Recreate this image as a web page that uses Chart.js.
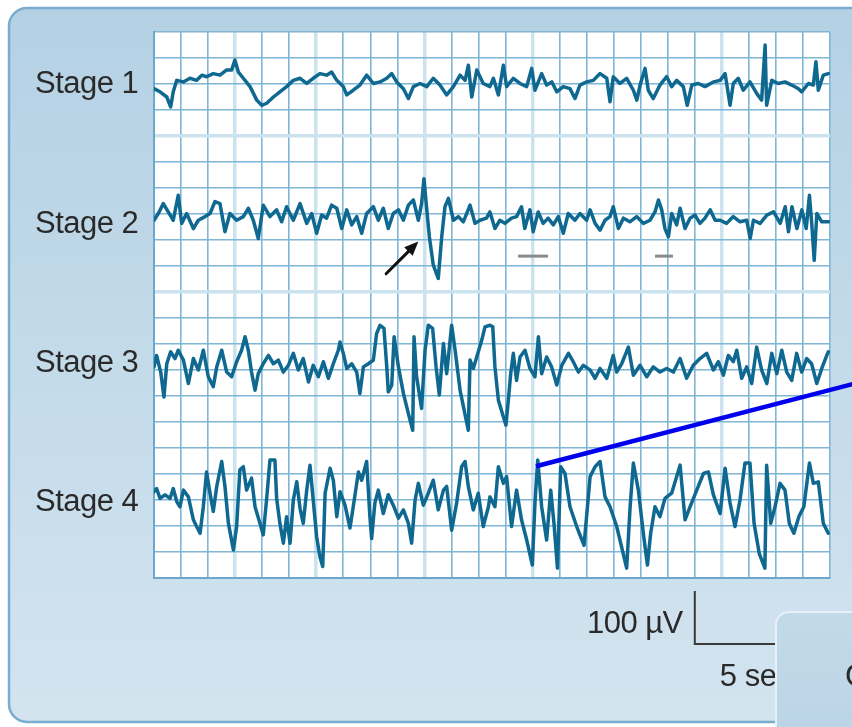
<!DOCTYPE html>
<html>
<head>
<meta charset="utf-8">
<script src="https://cdn.jsdelivr.net/npm/chart.js@4.4.1/dist/chart.umd.min.js"></script>
<style>
  html, body { margin: 0; padding: 0; background: #fff; overflow: hidden; }
  canvas { display: block; }
</style>
</head>
<body>
<canvas id="eeg" width="852" height="727"></canvas>
<script>
// EEG traces for the four non-REM sleep stages.
// Time in seconds, amplitude in microvolts (positive up) around each trace's own baseline.
const stageNames = ['Stage 1', 'Stage 2', 'Stage 3', 'Stage 4'];
const stageBaselines = [942, 698, 415, 150];   // where each trace sits on the shared µV axis

const stage1Time = [0.00,0.28,0.59,0.77,0.89,1.05,1.36,1.66,1.97,2.21,2.43,2.74,3.05,3.36,3.59,3.74,3.90,4.13,4.44,4.75,4.98,5.21,5.52,5.82,6.13,6.44,6.75,7.06,7.36,7.67,7.98,8.21,8.45,8.75,8.91,9.21,9.52,9.83,10.14,10.45,10.76,10.99,11.22,11.53,11.76,11.99,12.30,12.61,12.91,13.22,13.53,13.84,14.15,14.38,14.53,14.69,14.92,15.22,15.53,
  15.69,15.92,16.15,16.30,16.61,16.92,17.23,17.46,17.61,17.92,18.15,18.39,18.62,18.92,19.23,19.46,19.69,20.00,20.31,20.62,20.93,21.08,21.23,21.54,21.85,22.16,22.32,22.47,22.70,22.85,23.08,23.39,23.70,23.93,24.16,24.47,24.65,24.86,25.16,25.47,25.86,26.17,26.40,26.63,26.78,27.01,27.24,27.55,27.86,28.09,28.25,28.32,28.56,28.86,29.17,29.48,29.79,29.94,30.25,30.48,30.60,30.71,30.94,31.17];
const stage1Volts = [-1,-7,-17,-36,-7,15,12,19,15,25,22,28,25,35,35,54,31,19,3,-23,-33,-29,-17,-7,3,15,19,9,19,28,25,31,15,3,-13,-4,6,25,9,12,19,28,12,-1,-20,3,9,3,19,6,-13,3,25,15,44,-17,35,9,3,
  19,-13,44,3,19,9,3,38,-4,28,6,12,-7,3,-1,-20,6,12,15,28,19,-26,22,9,19,-4,-23,6,38,-4,-20,6,22,3,15,3,-33,6,9,3,12,15,28,-33,9,19,-4,12,-10,-23,83,-33,15,9,12,6,-1,-7,9,6,51,-4,25,28];

const stage2Time = [0.00,0.20,0.43,0.66,0.89,1.12,1.28,1.51,1.82,2.05,2.36,2.59,2.82,3.05,3.28,3.51,3.82,4.13,4.36,4.59,4.82,5.05,5.36,5.67,5.90,6.13,6.44,6.75,7.06,7.29,7.52,7.75,7.98,8.21,8.45,8.68,8.91,9.14,9.37,9.60,9.83,10.14,10.37,10.60,10.83,11.06,11.30,11.53,11.76,11.99,12.22,12.37,12.48,12.61,12.73,12.91,13.14,13.30,13.45,13.61,13.84,14.07,14.30,14.61,14.84,15.07,15.37,
  15.53,15.76,15.99,16.22,16.53,16.76,16.99,17.14,17.38,17.53,17.76,17.99,18.22,18.46,18.69,18.92,19.15,19.46,19.69,20.00,20.16,20.39,20.62,20.85,21.08,21.23,21.47,21.70,22.00,22.31,22.62,22.93,23.16,23.32,23.47,23.62,23.78,23.93,24.16,24.32,24.55,24.78,25.01,25.24,25.47,25.71,25.94,26.17,26.47,26.78,27.09,27.40,27.56,27.71,28.02,28.33,28.64,28.95,29.18,29.33,29.49,29.72,29.95,30.15,30.30,30.41,30.52,30.64,30.87,31.18];
const stage2Volts = [-10,3,22,6,-10,38,-16,3,-26,-10,-3,3,26,22,-32,3,-10,-3,13,-10,-45,19,-3,10,-13,16,-10,22,-16,3,-35,0,-6,19,13,-26,10,-19,-3,-35,3,16,-10,13,-26,3,10,-10,19,29,-10,22,70,10,-42,-96,-122,-42,16,32,-10,-3,-13,19,-16,-10,-6,
  6,-26,-10,-16,-6,-3,16,-26,10,-32,6,-16,-6,-19,-3,-35,3,-10,3,-10,10,-16,-29,-10,-3,16,-26,-6,-13,-3,-16,-10,6,29,10,-26,-42,3,-19,13,-26,-6,0,-16,-6,10,-10,-10,-16,-3,-13,-10,-45,-10,-16,0,6,-16,16,-32,16,-26,10,-26,38,-19,-87,3,-13,-13];

const stage3Time = [0.00,0.12,0.31,0.46,0.59,0.77,0.97,1.12,1.36,1.59,1.82,2.05,2.28,2.51,2.74,2.90,3.13,3.36,3.59,3.82,4.05,4.21,4.36,4.51,4.67,4.82,5.05,5.29,5.52,5.75,5.98,6.21,6.44,6.67,6.90,7.14,7.36,7.60,7.83,8.06,8.29,8.52,8.60,8.75,8.91,9.14,9.37,9.52,9.68,9.91,10.14,10.29,10.45,10.63,10.76,10.83,10.99,11.10,11.30,11.53,11.76,11.96,12.02,12.14,12.37,12.53,12.68,12.88,13.04,13.19,13.38,13.53,13.76,13.92,14.15,14.53,14.61,14.76,14.92,15.15,
  15.30,15.53,15.66,15.76,15.92,16.15,16.27,16.38,16.49,16.61,16.76,16.92,17.15,17.38,17.61,17.77,17.92,18.15,18.38,18.62,18.85,19.16,19.38,19.62,19.85,20.16,20.39,20.62,20.93,21.23,21.39,21.62,21.93,22.16,22.47,22.78,23.08,23.39,23.70,24.01,24.32,24.62,24.93,25.24,25.55,25.86,26.09,26.32,26.55,26.78,26.94,27.17,27.40,27.63,27.86,28.09,28.33,28.56,28.79,29.02,29.25,29.48,29.71,29.94,30.17,30.40,30.64,30.87,31.10,31.17];
const stage3Volts = [-9,13,-19,-67,-3,20,7,23,4,-41,7,-15,23,-28,-47,-9,23,-19,-28,1,23,49,23,-19,-54,-22,-3,13,-3,4,-19,-6,17,-15,7,-38,-6,-28,1,-31,-3,23,39,17,-12,-3,-19,-60,-9,-3,4,55,71,65,-9,-57,-44,49,-9,-60,-99,-131,49,-28,-89,23,71,65,-9,-63,36,-22,71,23,-54,-131,4,-12,10,42,
  68,71,68,-9,-73,-105,-121,-73,-22,17,-35,10,23,-12,-28,49,-22,10,-9,-44,-6,17,1,-19,-6,-15,-31,-12,-31,13,-19,-3,29,-25,-6,-28,-9,-19,-12,-19,7,-31,-6,7,17,-15,1,-25,13,1,23,-31,-9,-41,29,-15,-41,17,-22,23,-19,-35,17,-19,7,-3,-41,-12,13,20];

const stage4Time = [0.00,0.12,0.28,0.51,0.74,0.89,1.05,1.20,1.36,1.59,1.82,1.97,2.13,2.28,2.43,2.59,2.74,2.90,3.13,3.28,3.44,3.67,3.82,3.97,4.13,4.28,4.51,4.67,4.90,5.05,5.21,5.36,5.59,5.67,5.82,5.98,6.13,6.29,6.44,6.60,6.75,6.90,7.06,7.21,7.36,7.52,7.67,7.80,7.91,8.14,8.29,8.45,8.60,8.83,9.06,9.21,9.45,9.60,9.83,9.98,10.06,10.21,10.37,10.60,10.83,11.06,11.30,11.53,11.76,11.91,12.07,12.22,12.45,12.68,12.91,13.14,13.38,13.53,13.76,13.99,14.22,14.38,14.53,14.76,14.99,15.22,15.46,
  15.53,15.76,15.92,16.15,16.30,16.53,16.76,16.99,17.23,17.49,17.61,17.74,17.92,18.15,18.34,18.49,18.65,18.80,19.00,19.23,19.54,19.88,20.16,20.39,20.62,20.85,21.08,21.39,21.85,22.01,22.16,22.39,22.62,22.81,22.96,23.16,23.39,23.62,23.93,24.32,24.55,24.78,25.09,25.40,25.63,25.86,26.17,26.40,26.63,26.86,27.09,27.32,27.55,27.74,27.98,28.24,28.32,28.51,28.71,28.94,29.17,29.37,29.58,29.81,30.04,30.30,30.48,30.71,30.94,31.17];
const stage4Volts = [16,22,3,10,3,22,-3,-13,19,6,-38,-51,-64,-13,54,13,-22,26,74,26,-45,-96,-51,58,64,19,42,-13,-45,-67,3,77,77,3,-45,-83,-32,-83,0,35,-16,-45,19,67,0,-71,-109,-128,13,61,38,-32,16,-10,-54,-13,54,38,74,-32,-74,-6,19,-26,10,-10,-35,-19,-45,-83,0,32,-10,13,38,-19,19,26,-58,-6,64,74,26,-19,13,-51,-13,
  6,-13,64,32,45,-51,19,-38,-77,-125,-6,77,-13,-77,19,-45,-131,64,51,-13,-51,-87,45,64,74,6,-13,-51,-131,-13,71,19,-64,-125,-64,-13,-32,3,13,67,-38,-13,19,51,54,10,-26,61,-6,-51,0,71,71,-45,-103,-131,67,-45,-13,32,19,-45,-64,-32,-13,71,32,35,-45,-64];

// Marked features: the K-complex (arrow), two sleep spindles (bars), a delta wave (pointer line)
const kComplexArrow = { from: [10.73, -113], to: [12.22, -51] };       // stage 2, µV rel. baseline
const spindleSpans = [[16.83, 18.21], [23.16, 23.99]];                 // stage 2, seconds
const spindleLevel = -79;
const deltaPointer = { from: [17.66, 65], to: [32.3, 223] };           // stage 4, µV rel. baseline
// Calibration bar, drawn below stage 4
const calVolts = 100, calSeconds = 5, calStart = 25.0, calBottom = -277;

const timeMax = 31.25, timeStep = 1.25;   // 25 chart divisions
const voltMax = 1050, voltStep = 50;      // 21 chart divisions

const traceTimes = [stage1Time, stage2Time, stage3Time, stage4Time];
const traceVolts = [stage1Volts, stage2Volts, stage3Volts, stage4Volts];

const TRACE = '#0f6890';
const GRID = '#7fb5d5';
const GRID_PALE = '#cbe2ef';
const TEXT = '#2a2a2a';
const FONT = '"Liberation Sans", Arial, Helvetica, sans-serif';
const paleX = [3, 6, 10, 14, 21];
const paleY = [11, 17];
const labelBaselineY = [93, 233, 372, 511];

const datasets = traceTimes.map((times, i) => ({
  label: stageNames[i],
  data: times.map((t, k) => ({ x: t, y: stageBaselines[i] + traceVolts[i][k] })),
  borderColor: TRACE,
  borderWidth: 3.5,
  pointRadius: 0,
  tension: 0,
  borderJoinStyle: 'round',
  borderCapStyle: 'round',
  fill: false
}));

function roundRect(ctx, x, y, w, h, r) {
  ctx.beginPath();
  ctx.moveTo(x + r, y);
  ctx.lineTo(x + w - r, y);
  ctx.arcTo(x + w, y, x + w, y + r, r);
  ctx.lineTo(x + w, y + h - r);
  ctx.arcTo(x + w, y + h, x + w - r, y + h, r);
  ctx.lineTo(x + r, y + h);
  ctx.arcTo(x, y + h, x, y + h - r, r);
  ctx.lineTo(x, y + r);
  ctx.arcTo(x, y, x + r, y, r);
  ctx.closePath();
}

const figurePlugin = {
  id: 'figure',
  beforeDraw(chart) {
    const { ctx, chartArea: a } = chart;
    ctx.save();
    ctx.fillStyle = '#ffffff';
    ctx.fillRect(0, 0, chart.width, chart.height);
    const g = ctx.createLinearGradient(0, 8, 0, 722);
    g.addColorStop(0, '#b4d1e4');
    g.addColorStop(1, '#d3e4ef');
    roundRect(ctx, 9, 8, 900, 714, 18);
    ctx.fillStyle = g;
    ctx.fill();
    ctx.lineWidth = 2.5;
    ctx.strokeStyle = '#78add0';
    ctx.stroke();
    ctx.fillStyle = '#ffffff';
    ctx.fillRect(a.left, a.top, a.right - a.left, a.bottom - a.top);
    ctx.restore();
  },
  afterDraw(chart) {
    const { ctx } = chart;
    const xs = chart.scales.x, ys = chart.scales.y;
    const px = t => xs.getPixelForValue(t);
    const py = (stage, v) => ys.getPixelForValue(stageBaselines[stage] + v);
    ctx.save();

    // stage labels
    ctx.font = '31px ' + FONT;
    ctx.letterSpacing = '-0.5px';
    ctx.fillStyle = TEXT;
    ctx.textAlign = 'left';
    ctx.textBaseline = 'alphabetic';
    stageNames.forEach((name, i) => ctx.fillText(name, 35, labelBaselineY[i]));

    // spindle bars
    ctx.strokeStyle = '#8a8a8a';
    ctx.lineWidth = 3;
    ctx.lineCap = 'butt';
    spindleSpans.forEach(([t0, t1]) => {
      ctx.beginPath();
      ctx.moveTo(px(t0), py(1, spindleLevel));
      ctx.lineTo(px(t1), py(1, spindleLevel));
      ctx.stroke();
    });

    // K-complex arrow
    const ax0 = px(kComplexArrow.from[0]), ay0 = py(1, kComplexArrow.from[1]);
    const ax1 = px(kComplexArrow.to[0]), ay1 = py(1, kComplexArrow.to[1]);
    const ang = Math.atan2(ay1 - ay0, ax1 - ax0);
    ctx.strokeStyle = '#111';
    ctx.fillStyle = '#111';
    ctx.lineWidth = 3;
    ctx.lineCap = 'round';
    ctx.beginPath();
    ctx.moveTo(ax0, ay0);
    ctx.lineTo(ax1 - 10 * Math.cos(ang), ay1 - 10 * Math.sin(ang));
    ctx.stroke();
    ctx.beginPath();
    ctx.moveTo(ax1, ay1);
    ctx.lineTo(ax1 - 14 * Math.cos(ang) + 6 * Math.sin(ang), ay1 - 14 * Math.sin(ang) - 6 * Math.cos(ang));
    ctx.lineTo(ax1 - 14 * Math.cos(ang) - 6 * Math.sin(ang), ay1 - 14 * Math.sin(ang) + 6 * Math.cos(ang));
    ctx.closePath();
    ctx.fill();

    // delta-wave pointer
    ctx.strokeStyle = '#0000ee';
    ctx.lineWidth = 4.5;
    ctx.lineCap = 'butt';
    ctx.beginPath();
    ctx.moveTo(px(deltaPointer.from[0]), py(3, deltaPointer.from[1]));
    ctx.lineTo(px(deltaPointer.to[0]), py(3, deltaPointer.to[1]));
    ctx.stroke();

    // calibration bar
    const cx = px(calStart), cyB = py(3, calBottom), cyT = py(3, calBottom + calVolts);
    const cxR = px(calStart + calSeconds);
    ctx.strokeStyle = '#3a3a3a';
    ctx.lineWidth = 2;
    ctx.lineCap = 'square';
    ctx.beginPath();
    ctx.moveTo(cx, cyT);
    ctx.lineTo(cx, cyB);
    ctx.lineTo(cxR, cyB);
    ctx.stroke();
    ctx.fillStyle = TEXT;
    ctx.textAlign = 'right';
    ctx.fillText(calVolts + ' \u00B5V', cx - 12, cyB - 11);
    ctx.textAlign = 'left';
    ctx.fillText(calSeconds + ' sec', cx + 25, cyB + 42);

    // neighbouring panel overlapping the corner
    const g = ctx.createLinearGradient(0, 612, 0, 727);
    g.addColorStop(0, '#c2d9e8');
    g.addColorStop(1, '#bcd5e6');
    roundRect(ctx, 776, 612, 200, 200, 13);
    ctx.fillStyle = g;
    ctx.fill();
    ctx.lineWidth = 2;
    ctx.strokeStyle = '#e6f0f6';
    ctx.stroke();
    ctx.fillStyle = TEXT;
    ctx.textAlign = 'left';
    ctx.fillText('C', 845, 686);

    ctx.restore();
  }
};

new Chart(document.getElementById('eeg'), {
  type: 'line',
  data: { datasets },
  plugins: [figurePlugin],
  options: {
    responsive: false,
    animation: false,
    events: [],
    layout: { padding: { left: 154, right: 22, top: 32, bottom: 149 } },
    plugins: { legend: { display: false }, tooltip: { enabled: false } },
    scales: {
      x: {
        type: 'linear',
        min: 0, max: timeMax,
        ticks: { display: false, stepSize: timeStep },
        grid: {
          drawTicks: false,
          color: c => paleX.includes(c.index) ? GRID_PALE : GRID,
          lineWidth: c => paleX.includes(c.index) ? 3.5 : 1.6
        },
        border: { display: true, color: '#6aa8cc', width: 2 },
        afterFit: s => { s.height = 0; }
      },
      y: {
        type: 'linear',
        min: 0, max: voltMax,
        ticks: { display: false, stepSize: voltStep },
        grid: {
          drawTicks: false,
          color: c => paleY.includes(c.index) ? GRID_PALE : GRID,
          lineWidth: c => paleY.includes(c.index) ? 3.5 : 1.6
        },
        border: { display: true, color: '#6aa8cc', width: 2 },
        afterFit: s => { s.width = 0; }
      }
    }
  }
});
</script>
</body>
</html>
